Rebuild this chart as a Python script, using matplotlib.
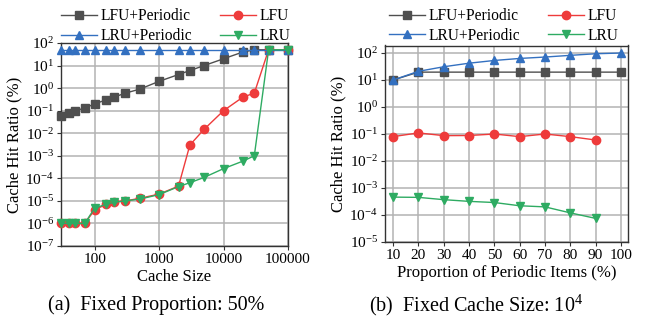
import matplotlib
matplotlib.use("Agg")
import matplotlib.pyplot as plt
from matplotlib.ticker import LogLocator, NullLocator, FixedLocator, FixedFormatter

plt.rcParams['font.family'] = ['Liberation Serif', 'DejaVu Serif']
plt.rcParams['mathtext.fontset'] = 'custom'
plt.rcParams['mathtext.rm'] = 'Liberation Serif'
plt.rcParams['mathtext.it'] = 'Liberation Serif:italic'

# ---- data: (a) fixed proportion 50% ----
cache_sizes = [30, 40, 50, 70, 100, 150, 200, 300, 500, 1000, 2000, 3000, 5000,
               10000, 20000, 30000, 50000, 100000]
a_lfu_periodic = [0.06, 0.08, 0.1, 0.13, 0.2, 0.3, 0.4, 0.6, 0.9, 2, 4, 6, 10,
                  20, 40, 50, 50, 50]
a_lru_periodic = [50] * 18
a_lfu = [1e-6, 1e-6, 1e-6, 1e-6, 4e-6, 7e-6, 9e-6, 1e-5, 1.3e-5, 2e-5, 4.5e-5,
         3e-3, 1.5e-2, 0.1, 0.4, 0.6, 50, 50]
a_lru = [1e-6, 1e-6, 1e-6, 1e-6, 4.8e-6, 7e-6, 8.7e-6, 1e-5, 1.2e-5, 1.9e-5, 4.3e-5,
         6.4e-5, 1.1e-4, 2.7e-4, 5.8e-4, 1e-3, 50, 50]

# ---- data: (b) fixed cache size 10^4 ----
proportions = [10, 20, 30, 40, 50, 60, 70, 80, 90, 100]
b_lfu_periodic = [10, 19.6, 19.6, 19.6, 19.6, 19.6, 19.6, 19.6, 19.6, 19.6]
b_lru_periodic = [10, 21, 31, 42, 53, 63, 71, 82, 94, 100]
b_lfu = [0.08, 0.11, 0.087, 0.088, 0.1, 0.08, 0.1, 0.08, 0.06]
b_lru = [4.6e-4, 4.5e-4, 3.7e-4, 3.2e-4, 2.9e-4, 2.2e-4, 2.0e-4, 1.2e-4, 7.5e-5]

labels = ['LFU+Periodic', 'LFU', 'LRU+Periodic', 'LRU']
colors = ['#4f4f4f', '#ee3b3b', '#3370c0', '#2eab62']
markers = ['s', 'o', '^', 'v']

fig = plt.figure(figsize=(6.51, 3.29), dpi=100)
ax1 = fig.add_axes([61/651, 1-246/329, 227/651, 203/329])
ax2 = fig.add_axes([385/651, 1-242/329, 243/651, 196.5/329])

def draw(ax, series):
    hs = []
    for (x, y), lab, c, m in zip(series, labels, colors, markers):
        h, = ax.plot(x, y, color=c, marker=m, markersize=6, lw=1.0,
                     label=lab, clip_on=False, zorder=3)
        hs.append(h)
    return hs

def style(ax):
    ax.set_yscale('log')
    ax.grid(True, color='#b3b3b3', lw=1.1)
    ax.set_axisbelow(True)
    for s in ax.spines.values():
        s.set_color('#333333')
        s.set_linewidth(1.0)
    ax.tick_params(axis='both', which='major', direction='out', length=3,
                   width=0.8, labelsize=11, color='#333333', pad=2)
    ax.tick_params(axis='both', which='minor', length=0)
    ax.set_ylabel('Cache Hit Ratio (%)', fontsize=12, labelpad=2)

def legend(ax, hs, x0, y0):
    order = [0, 2, 1, 3]
    ax.legend([hs[i] for i in order], [labels[i] for i in order], ncol=2,
              loc='lower left', bbox_to_anchor=(x0, y0), frameon=False,
              fontsize=11.2, handlelength=2.3, handletextpad=0.25,
              columnspacing=1.8, labelspacing=0.25, borderaxespad=0.0,
              borderpad=0.0)

hs1 = draw(ax1, [(cache_sizes, a_lfu_periodic), (cache_sizes, a_lfu),
                 (cache_sizes, a_lru_periodic), (cache_sizes, a_lru)])
ax1.set_xscale('log')
style(ax1)
ax1.set_xlim(30, 100000)
ax1.set_ylim(1e-7, 1e2)
ax1.xaxis.set_major_locator(FixedLocator([100, 1000, 10000, 100000]))
ax1.xaxis.set_major_formatter(FixedFormatter(['100', '1000', '10000', '100000']))
ax1.xaxis.set_minor_locator(NullLocator())
ax1.yaxis.set_major_locator(LogLocator(base=10, numticks=20))
ax1.yaxis.set_minor_locator(NullLocator())
ax1.set_xlabel('Cache Size', fontsize=12, labelpad=2)
legend(ax1, hs1, 0.0, 0.995)

hs2 = draw(ax2, [(proportions, b_lfu_periodic), (proportions[:9], b_lfu),
                 (proportions, b_lru_periodic), (proportions[:9], b_lru)])
style(ax2)
ax2.set_xlim(6.8, 102.8)
ax2.set_ylim(1e-5, 190)
ax2.set_xticks(proportions)
ax2.yaxis.set_major_locator(LogLocator(base=10, numticks=20))
ax2.yaxis.set_minor_locator(NullLocator())
ax2.set_xlabel('Proportion of Periodic Items (%)', fontsize=12, labelpad=2)
legend(ax2, hs2, 0.016, 1.008)

fig.text(156/651, 1-305/329, '(a)  Fixed Proportion: 50%', ha='center', va='center',
         fontsize=14.5)
fig.text(476/651, 1-305/329, '(b)  Fixed Cache Size: $10^4$', ha='center', va='center',
         fontsize=14.5)

fig.savefig('out.png', dpi=100)
